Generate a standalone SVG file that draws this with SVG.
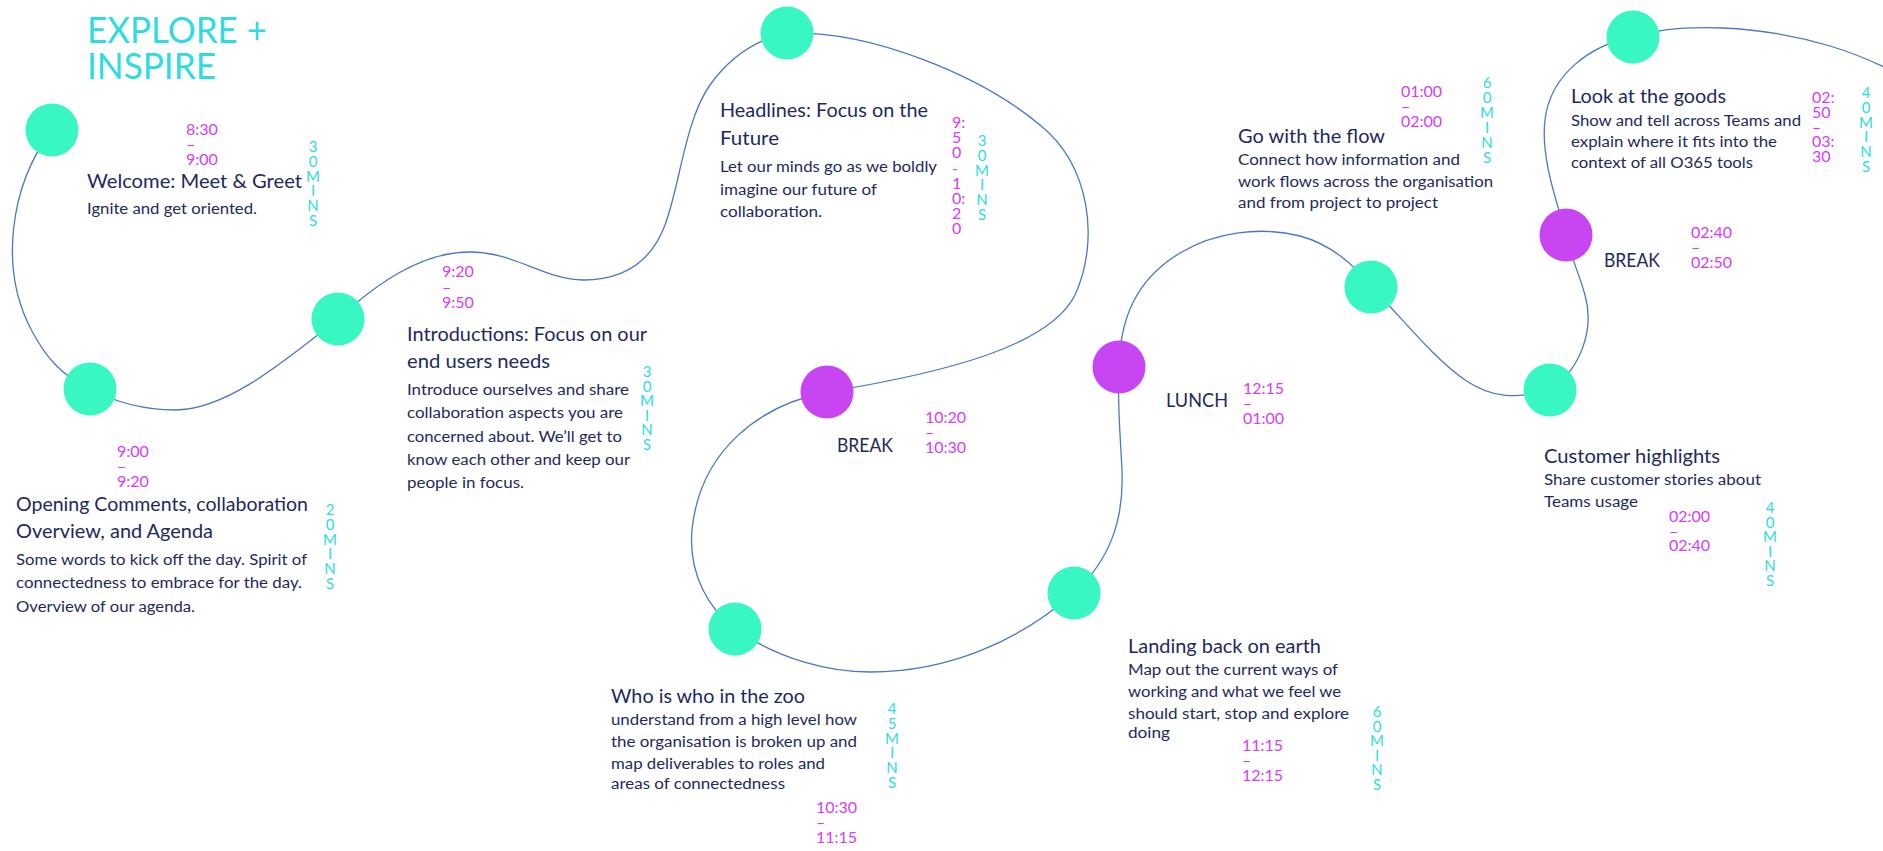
<svg xmlns="http://www.w3.org/2000/svg" width="1883" height="851" viewBox="0 0 1883 851">
<style>
text{font-family:Lato,"Open Sans","Liberation Sans",sans-serif}
.g{fill:#39F7C3}
.p{fill:#C746F2}
.title{font-size:37px;fill:#2EDCE0;font-weight:400}
.h{font-size:19px;fill:#1D2A5C}
.b{font-size:15.5px;fill:#1D2A5C}
.t{font-size:16px;fill:#D63CF5}
.m{font-size:15px;fill:#2EDCE0;text-anchor:middle}
.path{fill:none;stroke:#4A78C2;stroke-width:1.3}
</style>
<rect width="1883" height="851" fill="#FFFFFF"/>
<g id="title">
<text class="title" x="87" y="43" textLength="180" lengthAdjust="spacingAndGlyphs">EXPLORE +</text>
<text class="title" x="87" y="79" textLength="129" lengthAdjust="spacingAndGlyphs">INSPIRE</text>
</g>
<g id="connectors">
<path class="path" d="M52,130 C10,185 -2,270 33,333 C45,355 60,375 90,389 C115,402 145,410 175,410 C225,410 280,365 338,319 C375,285 420,252 470,252 C515,252 545,280 583,280 C620,280 650,265 665,225 C680,185 685,120 710,85 C730,57 755,40 787,33 C870,30 980,75 1040,125 C1090,165 1100,240 1075,295 C1050,345 950,372 827,392 C760,405 700,450 692,530 C688,575 710,610 735,629 C780,660 830,672 870,672 C950,672 1020,640 1074,593 C1110,560 1124,520 1122,470 C1120,430 1117,400 1119,367 C1120,320 1135,280 1180,253 C1215,232 1260,226 1300,236 C1330,244 1355,265 1371,287 C1400,315 1430,355 1465,380 C1490,397 1515,400 1550,390 C1580,370 1595,330 1585,295 C1578,270 1570,255 1566,235 C1560,210 1540,160 1545,120 C1550,75 1590,45 1633,37 C1680,22 1760,25 1830,46 C1850,52 1870,60 1890,70"/>
</g>
<g id="n-welcome">
<circle class="g" cx="52" cy="130" r="26.5"/>
<text class="t" x="186" y="135">8:30</text>
<text class="t" x="186" y="150">–</text>
<text class="t" x="186" y="165">9:00</text>
<text class="h" x="87" y="188" textLength="215" lengthAdjust="spacingAndGlyphs">Welcome: Meet &amp; Greet</text>
<text class="b" x="87" y="214" textLength="170" lengthAdjust="spacingAndGlyphs">Ignite and get oriented.</text>
<text class="m" x="313" y="152"><tspan x="313">3</tspan><tspan x="313" dy="14.8">0</tspan><tspan x="313" dy="14.8">M</tspan><tspan x="313" dy="14.8">I</tspan><tspan x="313" dy="14.8">N</tspan><tspan x="313" dy="14.8">S</tspan></text>
</g>
<g id="n-opening">
<circle class="g" cx="90" cy="389" r="26.5"/>
<text class="t" x="117" y="457">9:00</text>
<text class="t" x="117" y="472">–</text>
<text class="t" x="117" y="487">9:20</text>
<text class="h" x="16" y="511" textLength="292" lengthAdjust="spacingAndGlyphs">Opening Comments, collaboration</text>
<text class="h" x="16" y="538" textLength="197" lengthAdjust="spacingAndGlyphs">Overview, and Agenda</text>
<text class="b" x="16" y="565" textLength="291" lengthAdjust="spacingAndGlyphs">Some words to kick off the day. Spirit of</text>
<text class="b" x="16" y="588" textLength="286" lengthAdjust="spacingAndGlyphs">connectedness to embrace for the day.</text>
<text class="b" x="16" y="612" textLength="179" lengthAdjust="spacingAndGlyphs">Overview  of our agenda.</text>
<text class="m" x="330" y="515"><tspan x="330">2</tspan><tspan x="330" dy="14.8">0</tspan><tspan x="330" dy="14.8">M</tspan><tspan x="330" dy="14.8">I</tspan><tspan x="330" dy="14.8">N</tspan><tspan x="330" dy="14.8">S</tspan></text>
</g>
<g id="n-introductions">
<circle class="g" cx="338" cy="319" r="26.5"/>
<text class="t" x="442" y="277">9:20</text>
<text class="t" x="442" y="292.5">–</text>
<text class="t" x="442" y="308">9:50</text>
<text class="h" x="407" y="341" textLength="240" lengthAdjust="spacingAndGlyphs">Introductions: Focus on our</text>
<text class="h" x="407" y="368" textLength="143" lengthAdjust="spacingAndGlyphs">end users needs</text>
<text class="b" x="407" y="395" textLength="222" lengthAdjust="spacingAndGlyphs">Introduce ourselves and share</text>
<text class="b" x="407" y="418" textLength="216" lengthAdjust="spacingAndGlyphs">collaboration aspects you are</text>
<text class="b" x="407" y="441.5" textLength="215" lengthAdjust="spacingAndGlyphs">concerned about. We’ll get to</text>
<text class="b" x="407" y="465" textLength="223" lengthAdjust="spacingAndGlyphs">know each other and keep  our</text>
<text class="b" x="407" y="488" textLength="117" lengthAdjust="spacingAndGlyphs">people in focus.</text>
<text class="m" x="647" y="377"><tspan x="647">3</tspan><tspan x="647" dy="14.6">0</tspan><tspan x="647" dy="14.6">M</tspan><tspan x="647" dy="14.6">I</tspan><tspan x="647" dy="14.6">N</tspan><tspan x="647" dy="14.6">S</tspan></text>
</g>
<g id="n-headlines">
<circle class="g" cx="787" cy="33" r="26.5"/>
<text class="h" x="720" y="117" textLength="208" lengthAdjust="spacingAndGlyphs">Headlines: Focus on the</text>
<text class="h" x="720" y="145" textLength="59" lengthAdjust="spacingAndGlyphs">Future</text>
<text class="b" x="720" y="172" textLength="217" lengthAdjust="spacingAndGlyphs">Let our minds go as we boldly</text>
<text class="b" x="720" y="195" textLength="157" lengthAdjust="spacingAndGlyphs">imagine our future of</text>
<text class="b" x="720" y="217" textLength="102" lengthAdjust="spacingAndGlyphs">collaboration.</text>
<text class="t" x="952" y="128"><tspan x="952">9:</tspan><tspan x="952" dy="15.2">5</tspan><tspan x="952" dy="15.2">0</tspan><tspan x="952" dy="15.2">-</tspan><tspan x="952" dy="15.2">1</tspan><tspan x="952" dy="15.2">0:</tspan><tspan x="952" dy="15.2">2</tspan><tspan x="952" dy="15.2">0</tspan></text>
<text class="m" x="982" y="146"><tspan x="982">3</tspan><tspan x="982" dy="14.8">0</tspan><tspan x="982" dy="14.8">M</tspan><tspan x="982" dy="14.8">I</tspan><tspan x="982" dy="14.8">N</tspan><tspan x="982" dy="14.8">S</tspan></text>
</g>
<g id="n-break1">
<circle class="p" cx="827" cy="392" r="26.5"/>
<text class="h" x="837" y="452" textLength="56" lengthAdjust="spacingAndGlyphs">BREAK</text>
<text class="t" x="925" y="423">10:20</text>
<text class="t" x="925" y="438">–</text>
<text class="t" x="925" y="453">10:30</text>
</g>
<g id="n-zoo">
<circle class="g" cx="735" cy="629" r="26.5"/>
<text class="h" x="611" y="703" textLength="194" lengthAdjust="spacingAndGlyphs">Who is who in the zoo</text>
<text class="b" x="611" y="725" textLength="246" lengthAdjust="spacingAndGlyphs">understand from a high level how</text>
<text class="b" x="611" y="747" textLength="246" lengthAdjust="spacingAndGlyphs">the organisation is broken up and</text>
<text class="b" x="611" y="769" textLength="214" lengthAdjust="spacingAndGlyphs">map deliverables  to roles and</text>
<text class="b" x="611" y="789" textLength="174" lengthAdjust="spacingAndGlyphs">areas  of connectedness</text>
<text class="m" x="892" y="714"><tspan x="892">4</tspan><tspan x="892" dy="14.8">5</tspan><tspan x="892" dy="14.8">M</tspan><tspan x="892" dy="14.8">I</tspan><tspan x="892" dy="14.8">N</tspan><tspan x="892" dy="14.8">S</tspan></text>
<text class="t" x="816" y="813">10:30</text>
<text class="t" x="816" y="828">–</text>
<text class="t" x="816" y="843">11:15</text>
</g>
<g id="n-landing">
<circle class="g" cx="1074" cy="593" r="26.5"/>
<text class="h" x="1128" y="653" textLength="193" lengthAdjust="spacingAndGlyphs">Landing back on earth</text>
<text class="b" x="1128" y="675" textLength="210" lengthAdjust="spacingAndGlyphs">Map out the current ways of</text>
<text class="b" x="1128" y="697" textLength="213" lengthAdjust="spacingAndGlyphs">working and what we feel  we</text>
<text class="b" x="1128" y="719" textLength="221" lengthAdjust="spacingAndGlyphs">should start, stop and explore</text>
<text class="b" x="1128" y="738" textLength="42" lengthAdjust="spacingAndGlyphs">doing</text>
<text class="t" x="1242" y="751">11:15</text>
<text class="t" x="1242" y="766">–</text>
<text class="t" x="1242" y="781">12:15</text>
<text class="m" x="1377" y="717"><tspan x="1377">6</tspan><tspan x="1377" dy="14.6">0</tspan><tspan x="1377" dy="14.6">M</tspan><tspan x="1377" dy="14.6">I</tspan><tspan x="1377" dy="14.6">N</tspan><tspan x="1377" dy="14.6">S</tspan></text>
</g>
<g id="n-lunch">
<circle class="p" cx="1119" cy="367" r="26.5"/>
<text class="h" x="1166" y="407" textLength="62" lengthAdjust="spacingAndGlyphs">LUNCH</text>
<text class="t" x="1243" y="394">12:15</text>
<text class="t" x="1243" y="409">–</text>
<text class="t" x="1243" y="424">01:00</text>
</g>
<g id="n-flow">
<circle class="g" cx="1371" cy="287" r="26.5"/>
<text class="t" x="1401" y="97">01:00</text>
<text class="t" x="1401" y="112">–</text>
<text class="t" x="1401" y="127">02:00</text>
<text class="m" x="1487" y="88"><tspan x="1487">6</tspan><tspan x="1487" dy="15">0</tspan><tspan x="1487" dy="15">M</tspan><tspan x="1487" dy="15">I</tspan><tspan x="1487" dy="15">N</tspan><tspan x="1487" dy="15">S</tspan></text>
<text class="h" x="1238" y="143" textLength="147" lengthAdjust="spacingAndGlyphs">Go with the flow</text>
<text class="b" x="1238" y="165" textLength="222" lengthAdjust="spacingAndGlyphs">Connect how information and</text>
<text class="b" x="1238" y="187" textLength="255" lengthAdjust="spacingAndGlyphs">work flows across the organisation</text>
<text class="b" x="1238" y="208" textLength="200" lengthAdjust="spacingAndGlyphs">and from project to project</text>
</g>
<g id="n-customer">
<circle class="g" cx="1550" cy="390" r="26.5"/>
<text class="h" x="1544" y="463" textLength="176" lengthAdjust="spacingAndGlyphs">Customer highlights</text>
<text class="b" x="1544" y="485" textLength="217" lengthAdjust="spacingAndGlyphs">Share customer stories about</text>
<text class="b" x="1544" y="507" textLength="94" lengthAdjust="spacingAndGlyphs">Teams  usage</text>
<text class="t" x="1669" y="522">02:00</text>
<text class="t" x="1669" y="537">–</text>
<text class="t" x="1669" y="551">02:40</text>
<text class="m" x="1770" y="513"><tspan x="1770">4</tspan><tspan x="1770" dy="14.6">0</tspan><tspan x="1770" dy="14.6">M</tspan><tspan x="1770" dy="14.6">I</tspan><tspan x="1770" dy="14.6">N</tspan><tspan x="1770" dy="14.6">S</tspan></text>
</g>
<g id="n-break2">
<circle class="p" cx="1566" cy="235" r="26.5"/>
<text class="h" x="1604" y="267" textLength="56" lengthAdjust="spacingAndGlyphs">BREAK</text>
<text class="t" x="1691" y="238">02:40</text>
<text class="t" x="1691" y="253">–</text>
<text class="t" x="1691" y="268">02:50</text>
</g>
<g id="n-goods">
<circle class="g" cx="1633" cy="37" r="26.5"/>
<text class="h" x="1571" y="103" textLength="155" lengthAdjust="spacingAndGlyphs">Look at the goods</text>
<text class="b" x="1571" y="126" textLength="230" lengthAdjust="spacingAndGlyphs">Show and tell across Teams and</text>
<text class="b" x="1571" y="147" textLength="206" lengthAdjust="spacingAndGlyphs">explain where it fits into the</text>
<text class="b" x="1571" y="168" textLength="182" lengthAdjust="spacingAndGlyphs">context of all O365 tools</text>
<text class="t" x="1812" y="103"><tspan x="1812">02:</tspan><tspan x="1812" dy="14.75">50</tspan><tspan x="1812" dy="14.75">–</tspan><tspan x="1812" dy="14.75">03:</tspan><tspan x="1812" dy="14.75">30</tspan></text>
<text class="m" x="1866" y="98"><tspan x="1866">4</tspan><tspan x="1866" dy="14.8">0</tspan><tspan x="1866" dy="14.8">M</tspan><tspan x="1866" dy="14.8">I</tspan><tspan x="1866" dy="14.8">N</tspan><tspan x="1866" dy="14.8">S</tspan></text>
</g>
</svg>
